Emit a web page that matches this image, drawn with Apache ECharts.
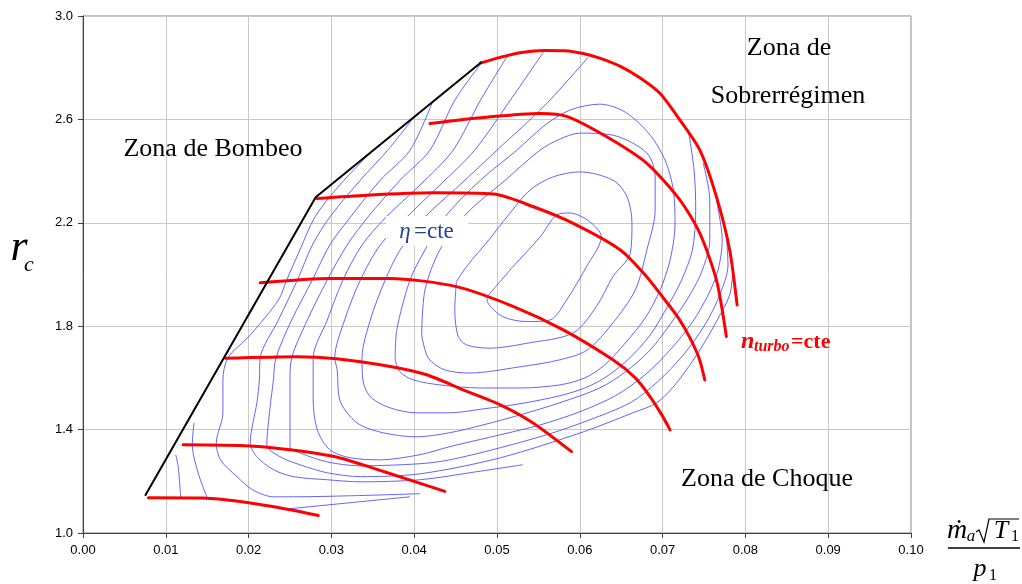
<!DOCTYPE html>
<html>
<head>
<meta charset="utf-8">
<script src="https://cdn.jsdelivr.net/npm/echarts@6/dist/echarts.min.js"></script>
<style>
html,body{margin:0;padding:0;background:#fff;}
#chart{width:1022px;height:584px;}
</style>
</head>
<body>
<div id="chart"></div>
<script>
// ---- axis ticks ----
const xTickLabels = [0, 0.01, 0.02, 0.03, 0.04, 0.05, 0.06, 0.07, 0.08, 0.09, 0.10];
const yTickLabels = [1.0, 1.4, 1.8, 2.2, 2.6, 3.0];

// ---- surge line (Zona de Bombeo limit) ----
const surgeLine = [[0.0075,1.144],[0.0281,2.299],[0.0481,2.821]];

// ---- constant speed lines (n_turbo = cte) ----
const speed1 = [[0.0079,1.136],[0.0145,1.135],[0.0202,1.116],[0.0250,1.090],[0.0284,1.068]];
const speed2 = [[0.0121,1.341],[0.0202,1.337],[0.0250,1.322],[0.0306,1.294],[0.0363,1.238],[0.0437,1.161]];
const speed3 = [[0.0172,1.676],[0.0258,1.682],[0.0306,1.674],[0.0371,1.644],[0.0415,1.612],[0.0459,1.554],[0.0504,1.496],[0.0544,1.425],[0.0590,1.315]];
const speed4 = [[0.0214,1.968],[0.0298,1.985],[0.0371,1.985],[0.0451,1.953],[0.0520,1.876],[0.0580,1.786],[0.0640,1.670],[0.0667,1.600],[0.0685,1.527],[0.0699,1.457],[0.0709,1.399]];
const speed5 = [[0.0282,2.294],[0.0343,2.307],[0.0423,2.316],[0.0496,2.311],[0.0544,2.262],[0.0592,2.198],[0.0649,2.095],[0.0679,1.998],[0.0700,1.913],[0.0719,1.832],[0.0733,1.755],[0.0744,1.677],[0.0751,1.592]];
const speed6 = [[0.0419,2.584],[0.0492,2.610],[0.0552,2.623],[0.0584,2.612],[0.0633,2.532],[0.0681,2.430],[0.0721,2.288],[0.0745,2.159],[0.0765,1.979],[0.0777,1.760]];
const speed7 = [[0.0480,2.818],[0.0504,2.840],[0.0528,2.858],[0.0558,2.867],[0.0582,2.866],[0.0604,2.855],[0.0624,2.837],[0.0649,2.805],[0.0673,2.760],[0.0697,2.700],[0.0721,2.597],[0.0745,2.481],[0.0765,2.301],[0.0781,2.095],[0.0790,1.882]];

// ---- efficiency contours (eta = cte) ----
const eta1 = [[0.0488,1.914],[0.0519,2.029],[0.0552,2.145],[0.0572,2.230],[0.0588,2.238],[0.0612,2.204],[0.0626,2.146],[0.0608,2.030],[0.0584,1.901],[0.0564,1.824],[0.0536,1.818],[0.0507,1.837],[0.0489,1.890],[0.0488,1.914]];
const eta2 = [[0.0451,1.972],[0.0449,1.863],[0.0453,1.762],[0.0463,1.728],[0.0492,1.715],[0.0536,1.734],[0.0592,1.774],[0.0620,1.876],[0.0640,1.992],[0.0661,2.082],[0.0663,2.198],[0.0657,2.301],[0.0640,2.365],[0.0600,2.397],[0.0568,2.378],[0.0540,2.327],[0.0512,2.223],[0.0492,2.141],[0.0463,2.030],[0.0451,1.972]];
const eta3 = [[0.0409,1.766],[0.0417,1.677],[0.0437,1.631],[0.0467,1.619],[0.0528,1.643],[0.0576,1.670],[0.0609,1.708],[0.0640,1.813],[0.0667,1.940],[0.0681,2.095],[0.0691,2.249],[0.0691,2.377],[0.0681,2.470],[0.0640,2.539],[0.0600,2.547],[0.0576,2.524],[0.0552,2.481],[0.0510,2.365],[0.0464,2.238],[0.0431,2.095],[0.0413,1.940],[0.0409,1.766]];
const eta4 = [[0.0377,1.670],[0.0379,1.786],[0.0395,1.979],[0.0413,2.095],[0.0437,2.222],[0.0480,2.365],[0.0524,2.481],[0.0558,2.578],[0.0588,2.636],[0.0624,2.659],[0.0655,2.628],[0.0685,2.539],[0.0703,2.442],[0.0713,2.327],[0.0715,2.191],[0.0709,2.056],[0.0697,1.940],[0.0679,1.832],[0.0655,1.735],[0.0630,1.650],[0.0606,1.600],[0.0576,1.573],[0.0528,1.561],[0.0480,1.561],[0.0431,1.573],[0.0399,1.592],[0.0383,1.623],[0.0377,1.670]];
const eta5 = [[0.0610,2.840],[0.0558,2.655],[0.0500,2.481],[0.0455,2.346],[0.0413,2.222],[0.0383,2.095],[0.0365,1.979],[0.0347,1.824],[0.0337,1.677],[0.0338,1.592],[0.0347,1.527],[0.0371,1.484],[0.0403,1.465],[0.0443,1.465],[0.0483,1.480],[0.0528,1.500],[0.0576,1.531],[0.0606,1.561],[0.0630,1.600],[0.0658,1.670],[0.0685,1.766],[0.0707,1.882],[0.0723,1.979],[0.0736,2.095],[0.0740,2.249],[0.0738,2.404],[0.0731,2.558]];
const eta6 = [[0.0556,2.860],[0.0516,2.674],[0.0473,2.481],[0.0431,2.346],[0.0391,2.222],[0.0359,2.114],[0.0335,1.979],[0.0316,1.824],[0.0304,1.677],[0.0307,1.631],[0.0310,1.515],[0.0331,1.426],[0.0362,1.388],[0.0403,1.372],[0.0443,1.388],[0.0483,1.418],[0.0528,1.457],[0.0576,1.504],[0.0624,1.561],[0.0655,1.623],[0.0685,1.708],[0.0711,1.816],[0.0733,1.921],[0.0748,2.017],[0.0757,2.133],[0.0757,2.288],[0.0749,2.431]];
const eta7 = [[0.0513,2.848],[0.0480,2.674],[0.0447,2.481],[0.0407,2.346],[0.0366,2.222],[0.0337,2.114],[0.0314,1.979],[0.0295,1.824],[0.0278,1.677],[0.0278,1.515],[0.0283,1.399],[0.0298,1.322],[0.0323,1.291],[0.0359,1.283],[0.0407,1.303],[0.0443,1.334],[0.0504,1.380],[0.0552,1.418],[0.0600,1.469],[0.0643,1.531],[0.0679,1.612],[0.0709,1.708],[0.0736,1.816],[0.0755,1.921],[0.0767,2.017],[0.0772,2.133],[0.0765,2.288]];
const eta8 = [[0.0481,2.817],[0.0449,2.674],[0.0419,2.481],[0.0383,2.365],[0.0344,2.222],[0.0319,2.114],[0.0295,1.979],[0.0271,1.824],[0.0252,1.677],[0.0250,1.592],[0.0250,1.334],[0.0262,1.310],[0.0295,1.275],[0.0335,1.260],[0.0407,1.268],[0.0443,1.283],[0.0504,1.330],[0.0564,1.384],[0.0612,1.438],[0.0661,1.504],[0.0694,1.585],[0.0725,1.689],[0.0751,1.805],[0.0769,1.921],[0.0779,2.037],[0.0777,2.153]];
const eta9 = [[0.0422,2.667],[0.0395,2.481],[0.0359,2.365],[0.0323,2.222],[0.0298,2.114],[0.0277,1.979],[0.0252,1.824],[0.0233,1.677],[0.0230,1.592],[0.0226,1.488],[0.0222,1.341],[0.0238,1.295],[0.0262,1.264],[0.0295,1.233],[0.0335,1.218],[0.0407,1.229],[0.0504,1.291],[0.0604,1.391],[0.0664,1.465],[0.0693,1.504],[0.0717,1.581],[0.0745,1.708],[0.0766,1.824],[0.0781,1.921],[0.0785,2.017]];
const eta10 = [[0.0397,2.597],[0.0368,2.481],[0.0335,2.365],[0.0298,2.222],[0.0277,2.114],[0.0259,1.979],[0.0236,1.824],[0.0214,1.677],[0.0213,1.592],[0.0210,1.504],[0.0202,1.349],[0.0210,1.295],[0.0230,1.245],[0.0254,1.218],[0.0295,1.206],[0.0335,1.198],[0.0407,1.206],[0.0467,1.233],[0.0531,1.264]];
const eta11 = [[0.0349,2.477],[0.0310,2.346],[0.0280,2.222],[0.0262,2.095],[0.0246,1.979],[0.0236,1.901],[0.0202,1.766],[0.0175,1.677],[0.0169,1.592],[0.0169,1.465],[0.0161,1.349],[0.0166,1.283],[0.0186,1.218],[0.0205,1.167],[0.0230,1.140],[0.0254,1.140],[0.0323,1.144],[0.0407,1.152]];
const eta12 = [[0.0134,1.426],[0.0132,1.341],[0.0139,1.233],[0.0150,1.136]];
const eta13 = [[0.0112,1.303],[0.0115,1.256],[0.0118,1.136]];
const eta14 = [[0.0250,1.094],[0.0322,1.117],[0.0395,1.140]];

const etaContours = [eta1, eta2, eta3, eta4, eta5, eta6, eta7, eta8, eta9, eta10, eta11, eta12, eta13, eta14];
const speedLines = [speed1, speed2, speed3, speed4, speed5, speed6, speed7];

const series = [];
etaContours.forEach(function (d) {
  series.push({
    type: 'line', data: d, smooth: 0.3, symbol: 'none', silent: true, z: 2,
    lineStyle: { color: '#5252ff', width: 1, opacity: 0.9 }
  });
});
speedLines.forEach(function (d) {
  series.push({
    type: 'line', data: d, smooth: 0.25, symbol: 'none', silent: true, z: 4,
    lineStyle: { color: '#ff0000', width: 3, cap: 'round' }
  });
});
series.push({
  type: 'line', data: surgeLine, smooth: false, symbol: 'none', silent: true, z: 5,
  lineStyle: { color: '#000000', width: 2 }
});

const SERIF = '"Liberation Serif", "Times New Roman", serif';

const chart = echarts.init(document.getElementById('chart'), null, { renderer: 'canvas' });
chart.setOption({
  animation: false,
  backgroundColor: '#ffffff',
  grid: { left: 83, right: 111, top: 16, bottom: 51, show: true, borderColor: '#808080', borderWidth: 1, backgroundColor: '#ffffff' },
  xAxis: {
    type: 'value', min: 0, max: 0.1, interval: 0.005,
    axisLine: { show: true, onZero: false, lineStyle: { color: '#404040', width: 1 } },
    axisTick: { show: true, length: 5, lineStyle: { color: '#404040' }, customValues: xTickLabels },
    axisLabel: { color: '#000', fontSize: 13, margin: 11, fontFamily: '"Liberation Sans", Arial, sans-serif',
      customValues: xTickLabels, formatter: function (v) { return Number(v).toFixed(2); } },
    splitLine: { show: true, lineStyle: { color: '#c8c8c8', width: 1 } }
  },
  yAxis: {
    type: 'value', min: 1, max: 3, interval: 0.2,
    axisLine: { show: true, onZero: false, lineStyle: { color: '#404040', width: 1 } },
    axisTick: { show: true, length: 5, lineStyle: { color: '#404040' }, customValues: yTickLabels },
    axisLabel: { color: '#000', fontSize: 13, margin: 10, fontFamily: '"Liberation Sans", Arial, sans-serif',
      customValues: yTickLabels, formatter: function (v) { return Number(v).toFixed(1); } },
    splitLine: { show: true, lineStyle: { color: '#c8c8c8', width: 1 } }
  },
  series: series,
  graphic: [
    { type: 'text', z: 20, style: { text: 'Zona de Bombeo', x: 213, y: 149, align: 'center', verticalAlign: 'middle', font: '26px ' + SERIF, fill: '#000' } },
    { type: 'text', z: 20, style: { text: 'Zona de', x: 789, y: 48, align: 'center', verticalAlign: 'middle', font: '26px ' + SERIF, fill: '#000' } },
    { type: 'text', z: 20, style: { text: 'Sobrerrégimen', x: 788, y: 96, align: 'center', verticalAlign: 'middle', font: '26px ' + SERIF, fill: '#000' } },
    { type: 'text', z: 20, style: { text: 'Zona de Choque', x: 767, y: 479, align: 'center', verticalAlign: 'middle', font: '26px ' + SERIF, fill: '#000' } },
    { type: 'rect', z: 18, shape: { x: 386, y: 216, width: 82, height: 30 }, style: { fill: '#ffffff' } },
    { type: 'text', z: 20, style: { text: 'η', x: 405, y: 232, align: 'center', verticalAlign: 'middle', font: 'italic 23px ' + SERIF, fill: '#23409c' } },
    { type: 'text', z: 20, style: { text: '=cte', x: 414, y: 232, align: 'left', verticalAlign: 'middle', font: '23px ' + SERIF, fill: '#23409c' } },
    { type: 'text', z: 20, style: { text: 'n', x: 741, y: 342, align: 'left', verticalAlign: 'middle', font: 'italic bold 24px ' + SERIF, fill: '#ff0000' } },
    { type: 'text', z: 20, style: { text: 'turbo', x: 754, y: 347, align: 'left', verticalAlign: 'middle', font: 'italic bold 16px ' + SERIF, fill: '#ff0000' } },
    { type: 'text', z: 20, style: { text: '=cte', x: 791, y: 342, align: 'left', verticalAlign: 'middle', font: 'bold 22px ' + SERIF, fill: '#ff0000' } },
    { type: 'text', z: 20, style: { text: 'r', x: 19, y: 248, align: 'center', verticalAlign: 'middle', font: 'italic 44px ' + SERIF, fill: '#000' } },
    { type: 'text', z: 20, style: { text: 'c', x: 29, y: 265, align: 'center', verticalAlign: 'middle', font: 'italic 22px ' + SERIF, fill: '#000' } },
    { type: 'text', z: 20, style: { text: 'ṁ', x: 957, y: 531, align: 'center', verticalAlign: 'middle', font: 'italic 28px ' + SERIF, fill: '#000' } },
    { type: 'text', z: 20, style: { text: 'a', x: 971, y: 537, align: 'center', verticalAlign: 'middle', font: 'italic 17px ' + SERIF, fill: '#000' } },
    { type: 'polyline', z: 20, shape: { points: [[976, 532], [979, 530], [984, 542], [989, 519], [1019, 519]] }, style: { stroke: '#000', lineWidth: 1.2, fill: null } },
    { type: 'text', z: 20, style: { text: 'T', x: 1001, y: 531, align: 'center', verticalAlign: 'middle', font: 'italic 26px ' + SERIF, fill: '#000' } },
    { type: 'text', z: 20, style: { text: '1', x: 1015, y: 537, align: 'center', verticalAlign: 'middle', font: '16px ' + SERIF, fill: '#000' } },
    { type: 'line', z: 20, shape: { x1: 948, y1: 548, x2: 1020, y2: 548 }, style: { stroke: '#000', lineWidth: 1.5 } },
    { type: 'text', z: 20, style: { text: 'p', x: 980, y: 569, align: 'center', verticalAlign: 'middle', font: 'italic 26px ' + SERIF, fill: '#000' } },
    { type: 'text', z: 20, style: { text: '1', x: 993, y: 576, align: 'center', verticalAlign: 'middle', font: '16px ' + SERIF, fill: '#000' } }
  ]
});
</script>
</body>
</html>
